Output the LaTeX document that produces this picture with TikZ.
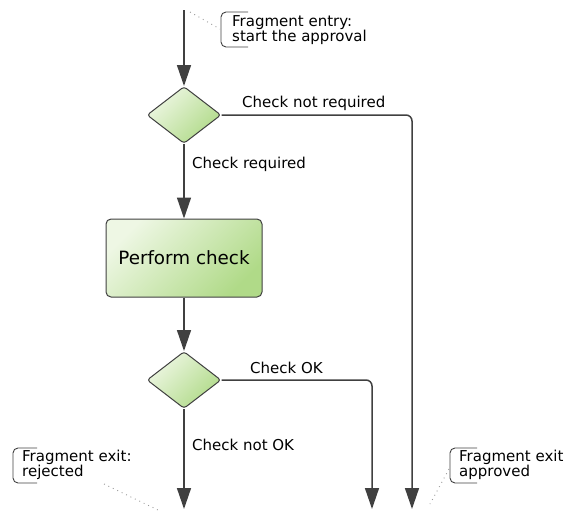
\documentclass[tikz,border=0pt]{standalone}
\usepackage{fontspec}
\setmainfont{DejaVu Sans}
\usetikzlibrary{shapes.geometric,arrows.meta}
\definecolor{linec}{HTML}{404040}
\definecolor{gLight}{HTML}{EEF7E4}
\definecolor{gDark}{HTML}{B0DA88}
\tikzset{
  flow/.style={draw=linec, line width=1.5pt, -{Triangle[length=21pt,width=14pt]}, rounded corners=6pt},
  decision/.style={diamond, draw=linec, line width=1pt, rounded corners=3pt, minimum width=74pt, minimum height=57pt, inner sep=0pt, top color=gLight, bottom color=gDark, shading angle=45},
  actbox/.style={rectangle, draw=linec, line width=1pt, rounded corners=5pt, minimum width=156pt, minimum height=78pt, inner sep=0pt, top color=gLight, bottom color=gDark, shading angle=45, font=\fontsize{18.3}{20}\selectfont},
  lbl/.style={anchor=west, inner sep=0pt, font=\fontsize{15}{15}\selectfont, text=black},
  note/.style={anchor=west, inner sep=0pt, align=left, font=\fontsize{15}{15}\selectfont, text=black},
  brk/.style={draw=linec, line width=0.9pt, rounded corners=5pt},
  dots/.style={draw=gray!80, line width=0.9pt, dash pattern=on 0.9pt off 4pt}
}
\begin{document}
\begin{tikzpicture}[x=1pt,y=-1pt]
\useasboundingbox (0,0) rectangle (566,512);
% nodes
\coordinate (start) at (184,10);
\node[decision] (d1) at (184,115) {};
\node[actbox] (act) at (184,258) {Perform check};
\node[decision] (d2) at (184,380) {};
\coordinate (exRej) at (184,509);
\coordinate (exOK) at (372,509);
\coordinate (exApp) at (412,509);
% connectors
\draw[flow] (start) -- (d1.north);
\draw[flow] (d1.south) -- (act.north);
\draw[flow] (act.south) -- (d2.north);
\draw[flow] (d2.south) -- (exRej);
\draw[flow] (d1.east) -| (exApp);
\draw[flow] (d2.east) -| (exOK);
% labels
\node[lbl] (lNotReq) at (242,103) {Check not required};
\node[lbl] (lReq) at (192,164) {Check required};
\node[lbl] (lOK) at (250,368) {Check OK};
\node[lbl] (lNotOK) at (192,445) {Check not OK};
% annotations
\node[note] (nEntry) at (232,30) {Fragment entry:\\start the approval};
\draw[brk] (248,12) -- (221,12) -- (221,47) -- (248,47);
\coordinate (pEntryA) at (190,12);
\coordinate (pEntryB) at (220,29);
\draw[dots] (pEntryA) -- (pEntryB);

\node[note] (nRej) at (22,465) {Fragment exit:\\rejected};
\draw[brk] (37,448) -- (13,448) -- (13,483) -- (37,483);
\coordinate (pRejA) at (104,484);
\coordinate (pRejB) at (158,510);
\draw[dots] (pRejA) -- (pRejB);

\node[note] (nApp) at (459,465) {Fragment exit\\approved};
\draw[brk] (477,448) -- (450,448) -- (450,483) -- (477,483);
\coordinate (pAppA) at (449,469);
\coordinate (pAppB) at (430,504);
\draw[dots] (pAppA) -- (pAppB);
\end{tikzpicture}
\end{document}
